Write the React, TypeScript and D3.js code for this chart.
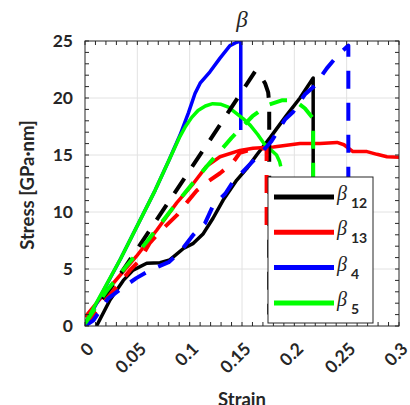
import React from "react";
import * as d3 from "d3";

const width = 410;
const height = 405;
const plot = { left: 85, top: 41, right: 399, bottom: 326 };

const xTicks = [0, 0.05, 0.1, 0.15, 0.2, 0.25, 0.3];
const xTickLabels = ["0", "0.05", "0.1", "0.15", "0.2", "0.25", "0.3"];
const yTicks = [0, 5, 10, 15, 20, 25];
const yTickLabels = ["0", "5", "10", "15", "20", "25"];

// [strain, stress]
const b12Solid = [
  [0.011, 0], [0.024, 2.3], [0.0366, 4.0], [0.046, 4.9], [0.059, 5.5], [0.0717, 5.55],
  [0.081, 5.8], [0.094, 6.8], [0.1035, 7.25], [0.113, 8.1], [0.1223, 9.45], [0.132, 11.05],
  [0.145, 12.8], [0.1545, 13.8], [0.164, 15.0], [0.1767, 16.5], [0.1927, 18.5], [0.2054, 20.0],
  [0.218, 21.75], [0.218, 1],
];
const b12Dashed = [
  [0, 0], [0.04, 5.4], [0.08, 10.9], [0.12, 16.4], [0.163, 22.4], [0.168, 21.9],
  [0.172, 21.3], [0.175, 20.5], [0.176, 19.5], [0.176, 1],
];
const b13Solid = [
  [0, 0.8], [0.027, 3.75], [0.049, 6.1], [0.0685, 8.4], [0.0876, 10.8], [0.1035, 12.5],
  [0.116, 14.0], [0.129, 14.85], [0.148, 15.4], [0.1605, 15.6], [0.18, 15.7], [0.2054, 16.0],
  [0.2245, 16.0], [0.2408, 16.1], [0.2474, 15.9], [0.256, 15.3], [0.2694, 15.3], [0.279, 15.06],
  [0.2885, 14.85], [0.3, 14.8],
];
const b13Dashed = [
  [0, 0], [0.043, 4.9], [0.0525, 5.8], [0.062, 7.3], [0.073, 8.4], [0.0876, 9.7], [0.097, 10.8],
  [0.107, 11.9], [0.118, 12.7], [0.129, 13.4], [0.141, 14.3], [0.148, 15.2], [0.16, 15.5],
  [0.1735, 15.6], [0.1735, 8.6],
];
const b4Solid = [
  [0, 0.1], [0.034, 5.9], [0.067, 11.9], [0.08, 14.5], [0.0908, 16.75], [0.0988, 18.7],
  [0.1051, 20.4], [0.11, 21.3], [0.1194, 22.3], [0.129, 23.5], [0.1385, 24.6], [0.144, 24.85],
  [0.1488, 25.0], [0.1488, 17.2],
];
const b4Dashed = [
  [0, 0], [0.008, 0.5], [0.022, 2.4], [0.035, 3.3], [0.049, 4.2], [0.062, 4.9], [0.08, 5.6],
  [0.091, 6.5], [0.1035, 8.0], [0.1146, 9.0], [0.1226, 10.6], [0.134, 11.6], [0.1414, 12.65],
  [0.1703, 15.4], [0.178, 16.2], [0.191, 18.1], [0.199, 18.8], [0.21, 20.3], [0.2197, 21.1],
  [0.231, 22.6], [0.242, 23.8], [0.2516, 24.6], [0.2516, 1],
];
const b5Solid = [
  [0, 0.2], [0.034, 5.9], [0.067, 11.9], [0.08, 14.5], [0.09, 16.5], [0.096, 17.5],
  [0.102, 18.3], [0.108, 18.9], [0.115, 19.3], [0.122, 19.5], [0.13, 19.45], [0.137, 19.2],
  [0.144, 18.7], [0.151, 18.2], [0.158, 17.6], [0.165, 16.8], [0.171, 16.0], [0.177, 15.5],
  [0.183, 15.0], [0.186, 14.4], [0.187, 14.0],
];
const b5Dashed = [
  [0, 0.2], [0.02, 3.0], [0.04, 5.3], [0.06, 7.5], [0.08, 9.9], [0.1, 12.2], [0.12, 14.4],
  [0.14, 16.5], [0.16, 18.4], [0.175, 19.4], [0.188, 19.8], [0.2, 19.8], [0.21, 19.1],
  [0.218, 18.2], [0.218, 1],
];

const legendSubs = ["12", "13", "4", "5"];
const colors = ["#000000", "#ff0000", "#0000ff", "#00ff00"];

const series = [
  { data: b12Solid, color: colors[0], dashed: false },
  { data: b13Solid, color: colors[1], dashed: false },
  { data: b4Solid, color: colors[2], dashed: false },
  { data: b5Solid, color: colors[3], dashed: false },
  { data: b12Dashed, color: colors[0], dashed: true },
  { data: b13Dashed, color: colors[1], dashed: true },
  { data: b4Dashed, color: colors[2], dashed: true },
  { data: b5Dashed, color: colors[3], dashed: true },
];

const axisColor = "#262626";
const font = "Lato, 'Open Sans', sans-serif";

export default function App() {
  const x = d3.scaleLinear().domain([0, 0.3]).range([plot.left, plot.right]);
  const y = d3.scaleLinear().domain([0, 25]).range([plot.bottom, plot.top]);
  const line = d3
    .line<number[]>()
    .x((d) => x(d[0]))
    .y((d) => y(d[1]));

  const xMinor = d3.range(0, 31).map((i) => i / 100);
  const yMinor = d3.range(0, 26);
  const tk = 4;

  const lg = { left: 268, top: 177, right: 373, bottom: 323 };

  return (
    <svg
      width={width}
      height={height}
      style={{ position: "absolute", left: 0, top: 0, background: "#fff" }}
    >
      <defs>
        <clipPath id="plotClip">
          <rect x={plot.left} y={plot.top} width={plot.right - plot.left} height={plot.bottom - plot.top} />
        </clipPath>
      </defs>
      <rect x={plot.left} y={plot.top} width={plot.right - plot.left} height={plot.bottom - plot.top} fill="#fff" />
      {/* grid */}
      {xTicks.slice(1, -1).map((t) => (
        <line key={"gx" + t} x1={x(t)} x2={x(t)} y1={plot.top} y2={plot.bottom} stroke="#e2e2e2" strokeWidth={1} />
      ))}
      {yTicks.slice(1, -1).map((t) => (
        <line key={"gy" + t} x1={plot.left} x2={plot.right} y1={y(t)} y2={y(t)} stroke="#e2e2e2" strokeWidth={1} />
      ))}
      {/* curves */}
      <g clipPath="url(#plotClip)">
        {series.map((s, i) => (
          <path
            key={i}
            d={line(s.data) || ""}
            fill="none"
            stroke={s.color}
            strokeWidth={s.dashed ? 4 : 3.5}
            strokeDasharray={s.dashed ? "18 14" : undefined}
            strokeLinejoin="round"
          />
        ))}
      </g>
      {/* ticks */}
      <g stroke={axisColor} strokeWidth={1}>
        {xMinor.map((t) => (
          <g key={"tx" + t}>
            <line x1={x(t)} x2={x(t)} y1={plot.bottom} y2={plot.bottom - tk} />
            <line x1={x(t)} x2={x(t)} y1={plot.top} y2={plot.top + tk} />
          </g>
        ))}
        {yMinor.map((t) => (
          <g key={"ty" + t}>
            <line x1={plot.left} x2={plot.left + tk} y1={y(t)} y2={y(t)} />
            <line x1={plot.right} x2={plot.right - tk} y1={y(t)} y2={y(t)} />
          </g>
        ))}
      </g>
      <rect
        x={plot.left}
        y={plot.top}
        width={plot.right - plot.left}
        height={plot.bottom - plot.top}
        fill="none"
        stroke={axisColor}
        strokeWidth={1}
      />
      {/* tick labels */}
      {yTicks.map((t, i) => (
        <text
          key={"yl" + t}
          x={73}
          y={y(t) + 6}
          textAnchor="end"
          fontFamily={font}
          fontWeight="bold"
          fontSize={17.5}
          fill={axisColor}
        >
          {yTickLabels[i]}
        </text>
      ))}
      {xTicks.map((t, i) => (
        <text
          key={"xl" + t}
          transform={`translate(${x(t) + 10},${350}) rotate(-45)`}
          textAnchor="end"
          fontFamily={font}
          fontWeight="bold"
          fontSize={17.5}
          fill={axisColor}
        >
          {xTickLabels[i]}
        </text>
      ))}
      {/* axis labels */}
      <text
        x={242}
        y={406}
        textAnchor="middle"
        fontFamily={font}
        fontWeight="bold"
        fontSize={18.5}
        fill={axisColor}
      >
        Strain
      </text>
      <text
        transform="translate(34,185) rotate(-90)"
        textAnchor="middle"
        fontFamily={font}
        fontWeight="bold"
        fontSize={18.5}
        fill={axisColor}
      >
        Stress [GPa·nm]
      </text>
      <text
        x={242}
        y={27}
        textAnchor="middle"
        fontFamily="'Liberation Serif', serif"
        fontStyle="italic"
        fontSize={23}
        fill={axisColor}
      >
        β
      </text>
      {/* legend */}
      <rect
        x={lg.left}
        y={lg.top}
        width={lg.right - lg.left}
        height={lg.bottom - lg.top}
        fill="#fff"
        stroke={axisColor}
        strokeWidth={1}
      />
      {legendSubs.map((sub, i) => {
        const ly = lg.top + 20 + i * 35.3;
        return (
          <g key={"lg" + i}>
            <line x1={274} x2={334} y1={ly} y2={ly} stroke={colors[i]} strokeWidth={5} />
            <text
              x={337}
              y={ly + 3}
              fontFamily="'Liberation Serif', serif"
              fontStyle="italic"
              fontSize={20}
              fill={axisColor}
            >
              β
            </text>
            <text x={351} y={ly + 11} fontFamily={font} fontWeight="bold" fontSize={14} fill={axisColor}>
              {sub}
            </text>
          </g>
        );
      })}
    </svg>
  );
}
